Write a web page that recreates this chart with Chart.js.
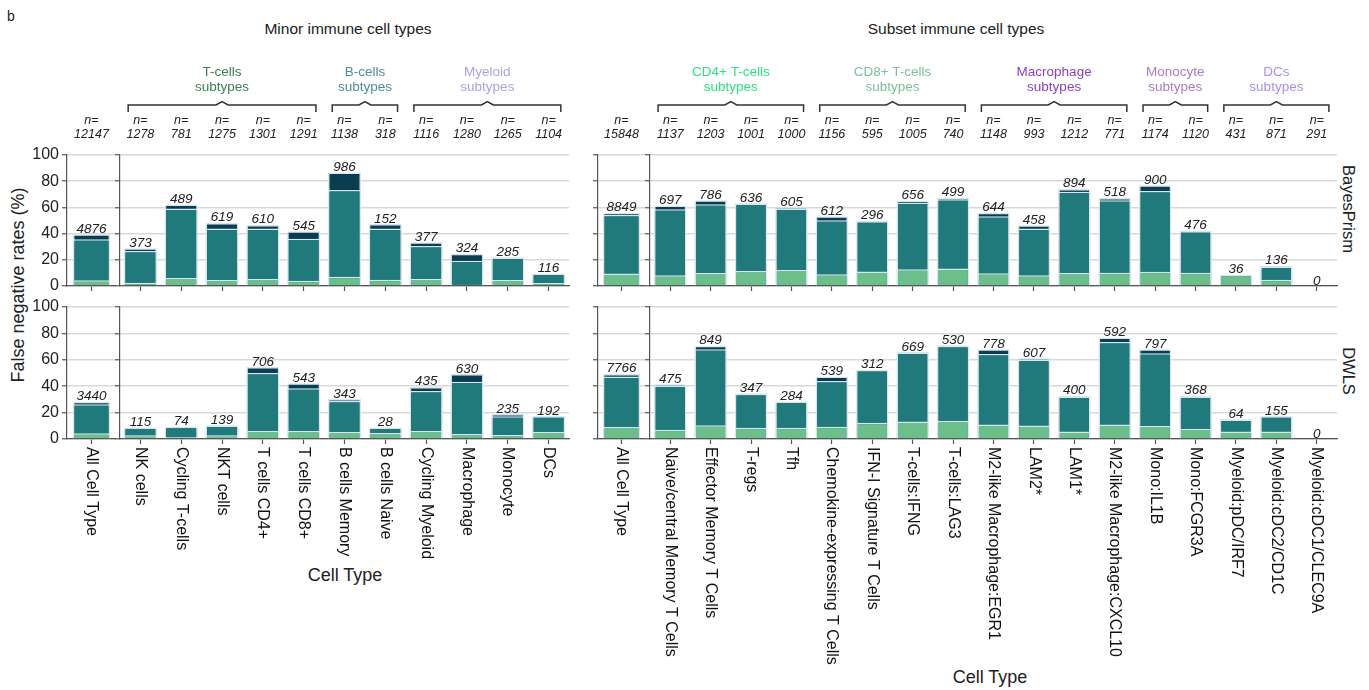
<!DOCTYPE html>
<html>
<head>
<meta charset="utf-8">
<script src="https://cdn.jsdelivr.net/npm/chart.js@4.4.0/dist/chart.umd.min.js"></script>
<style>
  body { margin: 0; background: #fff; font-family: "Liberation Sans", Arial, sans-serif; color: #222; }
  #fig { position: relative; width: 1369px; height: 690px; overflow: hidden; }
  canvas { position: absolute; }
  .txt { position: absolute; white-space: nowrap; transform: translate(-50%, -50%); line-height: 1; }
  .vdown { writing-mode: vertical-rl; }
  .vup { transform: translate(-50%, -50%) rotate(-90deg); }
</style>
</head>
<body>
<div id="fig">
  <div class="txt" style="left:11px; top:16px; font-size:14px;">b</div>
  <div class="txt" style="left:348px; top:29px; font-size:15.5px;">Minor immune cell types</div>
  <div class="txt" style="left:956px; top:29px; font-size:15.5px;">Subset immune cell types</div>
  <div class="txt vup" style="left:18px; top:285px; font-size:18px;">False negative rates (%)</div>
  <div class="txt vdown" style="left:1349px; top:209px; font-size:16.5px;">BayesPrism</div>
  <div class="txt vdown" style="left:1349px; top:371px; font-size:16.5px;">DWLS</div>
  <div class="txt" style="left:345px; top:575px; font-size:18px;">Cell Type</div>
  <div class="txt" style="left:990px; top:677px; font-size:18px;">Cell Type</div>

  <canvas id="bpMinorAll" width="116" height="300" style="left:0px; top:0px;"></canvas>
  <canvas id="bpMinorMain" width="475" height="300" style="left:100px; top:0px;"></canvas>
  <canvas id="bpSubsetAll" width="67" height="300" style="left:578px; top:0px;"></canvas>
  <canvas id="bpSubsetMain" width="715" height="300" style="left:630px; top:0px;"></canvas>
  <canvas id="dwMinorAll" width="116" height="300" style="left:0px; top:290px;"></canvas>
  <canvas id="dwMinorMain" width="475" height="300" style="left:100px; top:290px;"></canvas>
  <canvas id="dwSubsetAll" width="67" height="400" style="left:578px; top:290px;"></canvas>
  <canvas id="dwSubsetMain" width="715" height="400" style="left:630px; top:290px;"></canvas>
</div>
<script>
const minorTypes = ['NK cells', 'Cycling T-cells', 'NKT cells', 'T cells CD4+', 'T cells CD8+', 'B cells Memory',
  'B cells Naive', 'Cycling Myeloid', 'Macrophage', 'Monocyte', 'DCs'];
const minorN = [1278, 781, 1275, 1301, 1291, 1138, 318, 1116, 1280, 1265, 1104];
const subsetTypes = ['Naive/central Memory T Cells', 'Effector Memory T Cells', 'T-regs', 'Tfh',
  'Chemokine-expressing T Cells', 'IFN-I Signature T Cells', 'T-cells:IFNG', 'T-cells:LAG3',
  'M2-like Macrophage:EGR1', 'LAM2*', 'LAM1*', 'M2-like Macrophage:CXCL10', 'Mono:IL1B', 'Mono:FCGR3A',
  'Myeloid:pDC/IRF7', 'Myeloid:cDC2/CD1C', 'Myeloid:cDC1/CLEC9A'];
const subsetN = [1137, 1203, 1001, 1000, 1156, 595, 1005, 740, 1148, 993, 1212, 771, 1174, 1120, 431, 871, 291];
const allLabel = ['All Cell Type'];
const allMinorN = [12147];
const allSubsetN = [15848];

// false negative rate levels (%), drawn as overlapping bars: total, mid, low
const bpMinorTotal = [28.9, 62.3, 48.1, 46.6, 41.8, 86.6, 47.3, 33.4, 24.6, 22.0, 9.6];
const bpMinorMid   = [26.8, 59.2, 43.8, 43.8, 36.0, 73.2, 43.8, 30.6, 19.2, 21.5, 9.4];
const bpMinorLow   = [2.5, 6.1, 4.6, 5.3, 4.1, 7.1, 4.8, 5.3, 1.0, 4.6, 2.3];
const bpMinorCount = [373, 489, 619, 610, 545, 986, 152, 377, 324, 285, 116];
const bpMinorAll = { total: [39.5], mid: [35.7], low: [4.3], count: [4876] };

const bpSubsetTotal = [61.4, 65.4, 63.2, 60.2, 53.2, 49.8, 65.2, 67.4, 56.0, 46.3, 74.1, 67.2, 76.9, 42.3, 8.5, 15.4, 0];
const bpSubsetMid   = [58.5, 62.4, 63.0, 59.2, 50.2, 49.5, 63.7, 66.2, 53.2, 43.8, 71.9, 65.4, 72.6, 41.8, 8.5, 14.9, 0];
const bpSubsetLow   = [8.2, 10.0, 11.4, 12.2, 9.0, 11.0, 12.7, 13.4, 9.7, 8.2, 10.0, 10.2, 10.9, 10.2, 8.5, 4.7, 0];
const bpSubsetCount = [697, 786, 636, 605, 612, 296, 656, 499, 644, 458, 894, 518, 900, 476, 36, 136, 0];
const bpSubsetAll = { total: [56.0], mid: [54.2], low: [9.5], count: [8849] };

const dwMinorTotal = [8.8, 9.3, 10.4, 54.5, 42.2, 30.3, 8.8, 39.4, 49.2, 18.9, 17.4];
const dwMinorMid   = [8.6, 9.3, 10.2, 50.0, 38.4, 28.8, 8.6, 36.4, 43.4, 17.2, 17.2];
const dwMinorLow   = [2.8, 1.5, 2.8, 6.1, 6.1, 5.3, 4.5, 6.1, 3.8, 3.0, 5.3];
const dwMinorCount = [115, 74, 139, 706, 543, 343, 28, 435, 630, 235, 192];
const dwMinorAll = { total: [28.3], mid: [26.3], low: [4.3], count: [3440] };

const dwSubsetTotal = [41.5, 70.6, 34.6, 28.4, 47.3, 52.5, 65.9, 71.1, 67.9, 61.2, 32.6, 76.9, 67.9, 32.6, 14.9, 17.4, 0];
const dwSubsetMid   = [40.3, 67.9, 34.1, 28.2, 44.0, 52.3, 65.4, 70.4, 64.4, 60.0, 32.1, 73.4, 64.9, 32.1, 14.7, 17.2, 0];
const dwSubsetLow   = [7.0, 10.4, 8.5, 8.5, 9.2, 12.4, 13.2, 13.7, 10.9, 10.2, 5.7, 10.9, 9.9, 7.5, 5.7, 5.7, 0];
const dwSubsetCount = [475, 849, 347, 284, 539, 312, 669, 530, 778, 607, 400, 592, 797, 368, 64, 155, 0];
const dwSubsetAll = { total: [49.3], mid: [47.3], low: [9.0], count: [7766] };

// subtype brackets (category index ranges)
const minorGroups = [
  { title: ['T-cells', 'subtypes'], color: '#3b7f55', first: 0, last: 4 },
  { title: ['B-cells', 'subtypes'], color: '#508c9b', first: 5, last: 6 },
  { title: ['Myeloid', 'subtypes'], color: '#a9a1e0', first: 7, last: 10 }
];
const subsetGroups = [
  { title: ['CD4+ T-cells', 'subtypes'], color: '#2ee086', first: 0, last: 3 },
  { title: ['CD8+ T-cells', 'subtypes'], color: '#7dbf9f', first: 4, last: 7 },
  { title: ['Macrophage', 'subtypes'], color: '#8c41c3', first: 8, last: 11 },
  { title: ['Monocyte', 'subtypes'], color: '#aa7dc3', first: 12, last: 13 },
  { title: ['DCs', 'subtypes'], color: '#aa91eb', first: 14, last: 16 }
];

const FONT = '"Liberation Sans", Arial, sans-serif';
const GREEN = '#6cbf8a', TEAL = '#20797a', NAVY = '#0b3d50', EDGE = '#d6e6f0', AXIS = '#555';

function valueLabels(counts) {
  return {
    id: 'valueLabels',
    afterDatasetsDraw(chart) {
      const ctx = chart.ctx;
      const bars = chart.getDatasetMeta(2).data;
      ctx.save();
      ctx.font = 'italic 13.5px ' + FONT;
      ctx.fillStyle = '#222';
      ctx.textAlign = 'center';
      ctx.textBaseline = 'alphabetic';
      bars.forEach((bar, i) => ctx.fillText(String(counts[i]), bar.x, bar.y - 1.5));
      ctx.restore();
    }
  };
}

function header(nums, groups) {
  return {
    id: 'header',
    afterDraw(chart) {
      const ctx = chart.ctx, x = chart.scales.x;
      ctx.save();
      ctx.fillStyle = '#222';
      ctx.textAlign = 'center';
      ctx.textBaseline = 'alphabetic';
      ctx.font = 'italic 12.5px ' + FONT;
      nums.forEach((n, i) => {
        const px = x.getPixelForValue(i);
        ctx.fillText('n=', px, 124);
        ctx.fillText(String(n), px, 137.5);
      });
      groups.forEach(g => {
        const step = x.getPixelForValue(1) - x.getPixelForValue(0);
        const x0 = x.getPixelForValue(g.first) - 0.3 * step;
        const x1 = x.getPixelForValue(g.last) + 0.3 * step;
        const cx = (x0 + x1) / 2;
        ctx.strokeStyle = '#333';
        ctx.lineWidth = 1.5;
        ctx.beginPath();
        ctx.moveTo(x0, 112); ctx.lineTo(x0, 105);
        ctx.lineTo(cx - 6, 105); ctx.lineTo(cx, 101.5); ctx.lineTo(cx + 6, 105);
        ctx.lineTo(x1, 105); ctx.lineTo(x1, 112);
        ctx.stroke();
        ctx.fillStyle = g.color;
        ctx.font = '13.5px ' + FONT;
        ctx.textBaseline = 'middle';
        ctx.fillText(g.title[0], cx, 72);
        ctx.fillText(g.title[1], cx, 87.5);
      });
      ctx.restore();
    }
  };
}

function xLabels(labels) {
  return {
    id: 'xLabels',
    afterDraw(chart) {
      const ctx = chart.ctx, x = chart.scales.x, top = chart.chartArea.bottom + 8;
      ctx.save();
      ctx.font = '16px ' + FONT;
      ctx.fillStyle = '#111';
      ctx.textAlign = 'left';
      ctx.textBaseline = 'middle';
      labels.forEach((l, i) => {
        ctx.save();
        ctx.translate(x.getPixelForValue(i), top);
        ctx.rotate(Math.PI / 2);
        ctx.fillText(l, 0, 0);
        ctx.restore();
      });
      ctx.restore();
    }
  };
}

function panel(id, o) {
  const ds = (data, color) => ({
    data, backgroundColor: color, borderColor: EDGE, borderWidth: 1.5,
    barPercentage: o.barPct, categoryPercentage: 1
  });
  const plugins = [valueLabels(o.count)];
  if (o.n) plugins.push(header(o.n, o.groups || []));
  if (o.xLabels) plugins.push(xLabels(o.labels));
  return new Chart(document.getElementById(id), {
    type: 'bar',
    data: { labels: o.labels, datasets: [ds(o.low, GREEN), ds(o.mid, TEAL), ds(o.total, NAVY)] },
    options: {
      responsive: false,
      animation: false,
      layout: { padding: { top: o.top, right: o.right || 0, bottom: 0, left: 0 } },
      plugins: { legend: { display: false }, tooltip: { enabled: false } },
      scales: {
        x: {
          stacked: true,
          offset: true,
          grid: { display: true, drawOnChartArea: false, offset: false, tickLength: 5, tickColor: AXIS, tickWidth: 1.2 },
          border: { display: true, color: AXIS, width: 1.2 },
          ticks: { display: false },
          afterFit: s => { s.height = o.xHeight; }
        },
        y: {
          min: 0, max: 100,
          ticks: { stepSize: 20, display: !!o.yLabels, color: '#222', padding: 3, font: { family: FONT, size: 16 } },
          grid: { color: '#d9d9d9', lineWidth: 1.5, tickColor: AXIS, tickLength: 5, tickWidth: 1.2 },
          border: { display: true, color: AXIS, width: 1.2 },
          afterFit: s => { s.width = o.yWidth; }
        }
      }
    },
    plugins
  });
}

// BayesPrism row
panel('bpMinorAll', { labels: allLabel, total: bpMinorAll.total, mid: bpMinorAll.mid, low: bpMinorAll.low,
  count: bpMinorAll.count, n: allMinorN, top: 155, xHeight: 14, yWidth: 67, yLabels: true, barPct: 0.76 });
panel('bpMinorMain', { labels: minorTypes, total: bpMinorTotal, mid: bpMinorMid, low: bpMinorLow,
  count: bpMinorCount, n: minorN, groups: minorGroups, top: 155, right: 6, xHeight: 14, yWidth: 20, barPct: 0.81 });
panel('bpSubsetAll', { labels: allLabel, total: bpSubsetAll.total, mid: bpSubsetAll.mid, low: bpSubsetAll.low,
  count: bpSubsetAll.count, n: allSubsetN, top: 155, xHeight: 14, yWidth: 20, barPct: 0.79 });
panel('bpSubsetMain', { labels: subsetTypes, total: bpSubsetTotal, mid: bpSubsetMid, low: bpSubsetLow,
  count: bpSubsetCount, n: subsetN, groups: subsetGroups, top: 155, right: 8, xHeight: 14, yWidth: 20, barPct: 0.8 });

// DWLS row
panel('dwMinorAll', { labels: allLabel, total: dwMinorAll.total, mid: dwMinorAll.mid, low: dwMinorAll.low,
  count: dwMinorAll.count, top: 17, xHeight: 151, yWidth: 67, yLabels: true, xLabels: true, barPct: 0.76 });
panel('dwMinorMain', { labels: minorTypes, total: dwMinorTotal, mid: dwMinorMid, low: dwMinorLow,
  count: dwMinorCount, top: 17, right: 6, xHeight: 151, yWidth: 20, xLabels: true, barPct: 0.81 });
panel('dwSubsetAll', { labels: allLabel, total: dwSubsetAll.total, mid: dwSubsetAll.mid, low: dwSubsetAll.low,
  count: dwSubsetAll.count, top: 17, xHeight: 251, yWidth: 20, xLabels: true, barPct: 0.79 });
panel('dwSubsetMain', { labels: subsetTypes, total: dwSubsetTotal, mid: dwSubsetMid, low: dwSubsetLow,
  count: dwSubsetCount, top: 17, right: 8, xHeight: 251, yWidth: 20, xLabels: true, barPct: 0.8 });
</script>
</body>
</html>
